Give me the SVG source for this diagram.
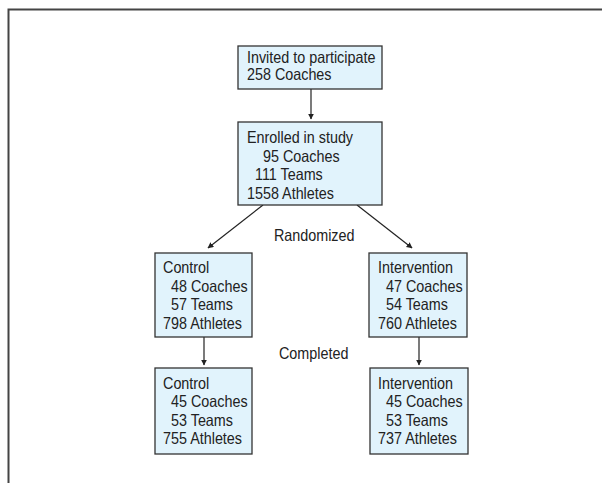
<svg xmlns="http://www.w3.org/2000/svg" width="602" height="483" viewBox="0 0 602 483">
<style>
.box{fill:#e1f3fc;stroke:#333;stroke-width:1.3}
.t{font-family:"Liberation Sans",Arial,sans-serif;font-size:16.5px;fill:#222}
.c{stroke:#222;stroke-width:1.2;fill:none}
</style>
<defs>
<marker id="ah" viewBox="0 0 10 10" refX="9" refY="5" markerWidth="6" markerHeight="6" markerUnits="userSpaceOnUse" orient="auto">
<path d="M0,0 L10,5 L0,10 z" fill="#222"/>
</marker>
</defs>
<rect width="602" height="483" fill="#fff"/>
<path d="M8.5,483 V9.5 H602" fill="none" stroke="#444" stroke-width="2"/>
<g id="connectors">
<line class="c" x1="311" y1="89" x2="311" y2="119" marker-end="url(#ah)"/>
<line class="c" x1="263" y1="205" x2="208" y2="248" marker-end="url(#ah)"/>
<line class="c" x1="357" y1="205" x2="412" y2="248" marker-end="url(#ah)"/>
<line class="c" x1="204" y1="337" x2="204" y2="365" marker-end="url(#ah)"/>
<line class="c" x1="419" y1="337" x2="419" y2="365" marker-end="url(#ah)"/>
</g>
<g id="invited">
<rect class="box" x="238" y="46" width="144" height="43"/>
<g transform="scale(0.87 1)">
<text class="t" x="283.9" y="63">Invited to participate</text>
<text class="t" x="283.9" y="80">258 Coaches</text>
</g>
</g>
<g id="enrolled">
<rect class="box" x="238" y="122" width="144" height="83"/>
<g transform="scale(0.87 1)">
<text class="t" x="283.9" y="143.5">Enrolled in study</text>
<text class="t" x="302.3" y="162">95 Coaches</text>
<text class="t" x="293.1" y="180.5">111 Teams</text>
<text class="t" x="283.9" y="199">1558 Athletes</text>
</g>
</g>
<g id="randomized" transform="scale(0.87 1)">
<text class="t" x="314.9" y="241.5">Randomized</text>
</g>
<g id="control1">
<rect class="box" x="155" y="253" width="97" height="84"/>
<g transform="scale(0.87 1)">
<text class="t" x="187.4" y="273.5">Control</text>
<text class="t" x="196.6" y="292">48 Coaches</text>
<text class="t" x="196.6" y="310.5">57 Teams</text>
<text class="t" x="187.4" y="329">798 Athletes</text>
</g>
</g>
<g id="intervention1">
<rect class="box" x="369" y="253" width="98" height="84"/>
<g transform="scale(0.87 1)">
<text class="t" x="434.5" y="273.5">Intervention</text>
<text class="t" x="443.7" y="292">47 Coaches</text>
<text class="t" x="443.7" y="310.5">54 Teams</text>
<text class="t" x="434.5" y="329">760 Athletes</text>
</g>
</g>
<g id="completed" transform="scale(0.87 1)">
<text class="t" x="320.7" y="359.5">Completed</text>
</g>
<g id="control2">
<rect class="box" x="155" y="368" width="97" height="86"/>
<g transform="scale(0.87 1)">
<text class="t" x="187.4" y="389">Control</text>
<text class="t" x="196.6" y="407.5">45 Coaches</text>
<text class="t" x="196.6" y="426">53 Teams</text>
<text class="t" x="187.4" y="444.5">755 Athletes</text>
</g>
</g>
<g id="intervention2">
<rect class="box" x="370" y="368" width="98" height="86"/>
<g transform="scale(0.87 1)">
<text class="t" x="434.5" y="389">Intervention</text>
<text class="t" x="443.7" y="407.5">45 Coaches</text>
<text class="t" x="443.7" y="426">53 Teams</text>
<text class="t" x="434.5" y="444.5">737 Athletes</text>
</g>
</g>
</svg>
